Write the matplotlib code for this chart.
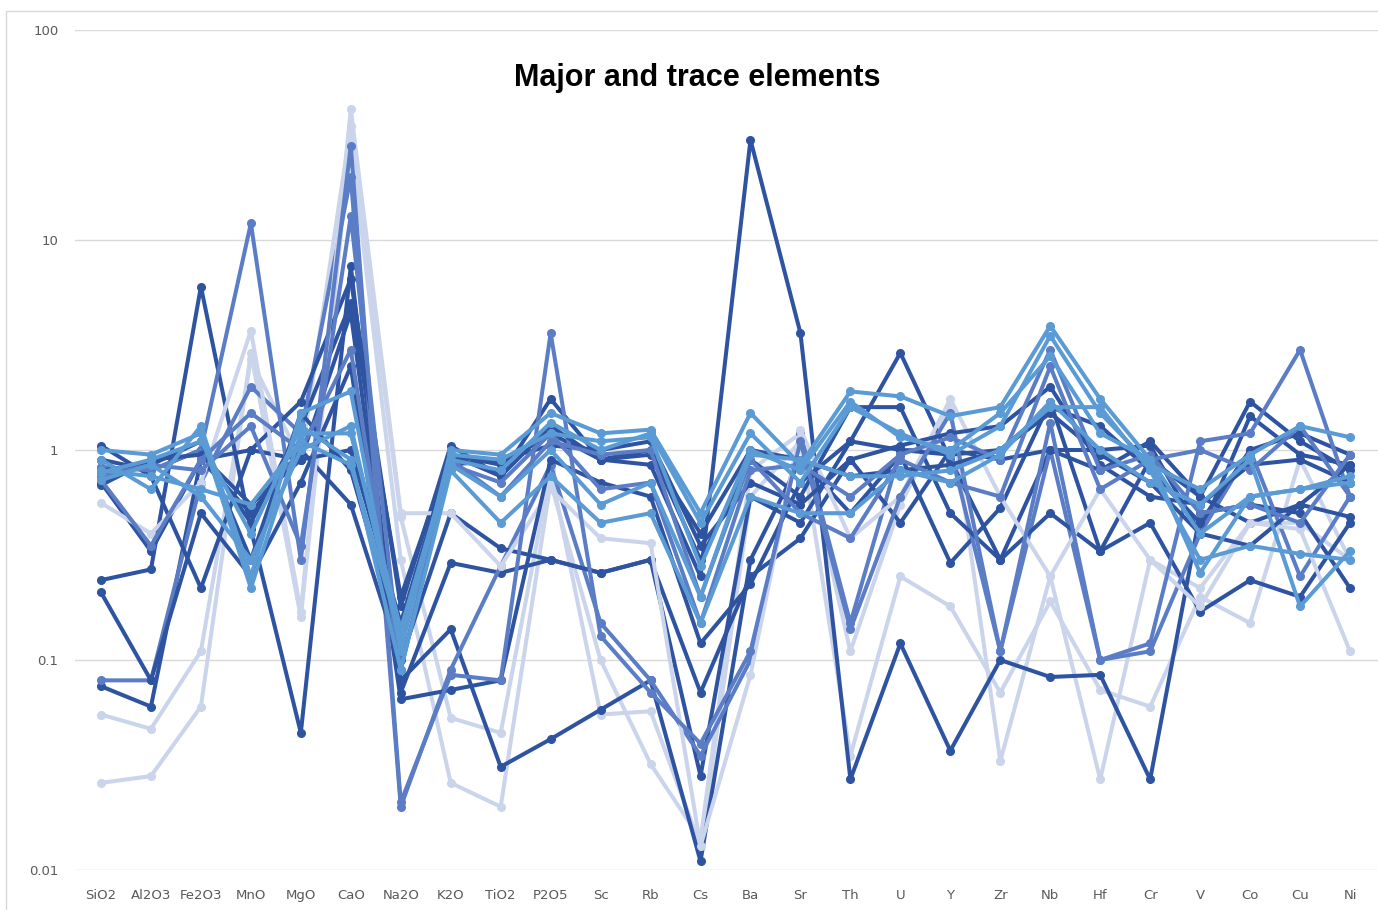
import numpy as np
import matplotlib.pyplot as plt
from matplotlib.patches import Rectangle

elements = ['SiO2', 'Al2O3', 'Fe2O3', 'MnO', 'MgO', 'CaO', 'Na2O', 'K2O', 'TiO2', 'P2O5',
            'Sc', 'Rb', 'Cs', 'Ba', 'Sr', 'Th', 'U', 'Y', 'Zr', 'Nb', 'Hf', 'Cr', 'V', 'Co', 'Cu', 'Ni']

# normalised concentrations per sample
d1 = [0.9, 0.8, 1.0, 0.45, 1.3, 5.0, 0.2, 0.95, 0.85, 1.2, 0.9, 0.85, 0.25, 30.0, 3.6, 0.027, 0.12, 0.037, 0.1, 0.083, 0.085, 0.027, 0.5, 0.55, 0.5, 0.22]
d2 = [0.24, 0.27, 6.0, 0.42, 0.045, 7.5, 0.07, 0.29, 0.26, 0.3, 0.26, 0.3, 0.028, 0.6, 0.45, 1.1, 2.9, 0.9, 0.3, 1.0, 1.0, 1.05, 0.4, 1.45, 0.95, 0.85]
d3 = [0.075, 0.06, 0.9, 1.0, 0.9, 4.5, 0.08, 0.14, 0.031, 0.042, 0.058, 0.08, 0.011, 0.3, 0.9, 0.5, 0.95, 0.29, 0.53, 1.7, 0.33, 0.45, 0.17, 0.24, 0.2, 0.45]
d4 = [1.05, 0.75, 0.22, 1.0, 1.7, 6.5, 0.18, 1.05, 0.75, 1.75, 0.9, 1.0, 0.3, 0.9, 0.6, 1.6, 1.6, 0.5, 0.3, 0.5, 0.33, 0.9, 0.6, 1.7, 1.1, 0.8]
d5 = [0.7, 0.33, 0.9, 0.5, 1.0, 0.55, 0.1, 0.5, 0.34, 0.3, 0.26, 0.3, 0.07, 0.25, 0.38, 0.9, 0.45, 1.0, 0.9, 1.0, 0.8, 1.1, 0.6, 0.45, 0.55, 0.48]
d6 = [0.21, 0.08, 0.5, 0.25, 0.7, 2.5, 0.065, 0.072, 0.08, 0.9, 0.7, 0.6, 0.12, 0.23, 0.7, 1.1, 1.0, 0.95, 1.0, 1.6, 1.3, 0.8, 0.45, 1.0, 1.2, 0.95]
d7 = [0.8, 0.85, 1.1, 0.3, 1.5, 0.8, 0.12, 0.85, 0.9, 1.05, 1.0, 1.1, 0.35, 0.7, 0.55, 0.9, 1.05, 1.2, 1.3, 2.0, 0.85, 0.6, 0.55, 0.85, 0.9, 0.7]
d8 = [0.68, 0.9, 0.95, 0.55, 0.9, 1.0, 0.15, 0.95, 0.75, 1.3, 0.9, 0.95, 0.4, 1.0, 0.9, 0.75, 0.8, 0.85, 1.0, 1.5, 0.95, 0.7, 0.4, 0.35, 0.55, 0.85]

m1 = [0.83, 0.8, 1.0, 12.0, 0.3, 28.0, 0.021, 0.085, 0.08, 3.6, 0.13, 0.07, 0.04, 0.11, 1.1, 0.14, 0.6, 1.5, 0.11, 1.35, 0.1, 0.12, 1.1, 1.2, 3.0, 0.6]
m2 = [0.08, 0.08, 0.7, 2.0, 1.2, 20.0, 0.02, 0.09, 0.28, 0.85, 0.15, 0.08, 0.035, 0.1, 1.2, 0.15, 1.0, 1.0, 0.11, 1.0, 0.1, 0.11, 0.4, 1.0, 0.25, 0.6]
m3 = [0.75, 0.85, 0.8, 1.3, 0.35, 13.0, 0.09, 0.9, 0.6, 1.1, 0.95, 1.0, 0.2, 0.9, 0.5, 0.38, 0.9, 0.7, 0.6, 2.5, 0.65, 0.9, 1.0, 0.8, 1.3, 0.6]
m4 = [0.72, 0.35, 0.9, 1.5, 1.0, 3.0, 0.09, 0.85, 0.7, 1.2, 0.65, 0.7, 0.15, 0.8, 0.85, 0.6, 0.95, 1.15, 0.9, 3.0, 0.8, 0.95, 0.5, 0.55, 0.45, 0.95]

l1 = [0.9, 0.65, 1.3, 0.25, 1.5, 1.9, 0.11, 1.0, 0.95, 1.5, 1.2, 1.25, 0.5, 1.5, 0.85, 1.9, 1.8, 1.45, 1.6, 3.9, 1.75, 0.9, 0.26, 0.6, 0.65, 0.7]
l2 = [1.0, 0.95, 1.2, 0.22, 1.2, 1.2, 0.14, 0.9, 0.8, 1.35, 1.0, 1.2, 0.45, 1.2, 0.7, 1.6, 1.2, 0.95, 1.3, 3.5, 1.5, 0.85, 0.65, 0.95, 1.3, 1.15]
l3 = [0.8, 0.75, 0.65, 0.55, 1.1, 0.85, 0.13, 0.85, 0.6, 1.0, 0.55, 0.7, 0.2, 0.95, 0.9, 0.75, 0.75, 0.8, 1.0, 1.6, 1.6, 0.8, 0.3, 0.35, 0.32, 0.3]
l4 = [0.78, 0.9, 1.1, 0.4, 1.3, 0.9, 0.09, 0.8, 0.45, 0.75, 0.45, 0.5, 0.15, 0.6, 0.5, 0.5, 0.8, 0.7, 0.95, 1.7, 1.0, 0.7, 0.55, 0.9, 0.18, 0.33]
l5 = [0.72, 0.85, 0.6, 0.3, 1.0, 1.3, 0.12, 0.95, 0.9, 1.2, 1.1, 1.15, 0.28, 1.0, 0.8, 1.7, 1.15, 1.0, 1.5, 2.8, 1.2, 0.9, 0.4, 0.6, 0.65, 0.75]

p1 = [0.56, 0.4, 0.7, 3.7, 0.17, 42.0, 0.5, 0.5, 0.28, 0.65, 0.38, 0.36, 0.013, 0.085, 1.25, 0.38, 0.6, 1.75, 0.6, 0.25, 0.65, 0.3, 0.18, 0.45, 0.42, 0.11]
p2 = [0.055, 0.047, 0.11, 2.7, 0.9, 35.0, 0.48, 0.053, 0.045, 0.8, 0.055, 0.057, 0.013, 0.6, 1.1, 0.035, 0.25, 0.18, 0.07, 0.19, 0.072, 0.06, 0.2, 0.15, 0.9, 0.3]
p3 = [0.026, 0.028, 0.06, 2.9, 0.16, 30.0, 0.3, 0.026, 0.02, 0.7, 0.1, 0.032, 0.014, 0.8, 1.2, 0.11, 0.55, 1.6, 0.033, 0.25, 0.027, 0.3, 0.22, 0.45, 0.45, 0.3]

DARK = '#2E54A1'
MID = '#5B7DC5'
LIGHT = '#5A9BD5'
PALE = '#CAD4EB'

series = [
    (p2, PALE), (p3, PALE), (d1, DARK), (d2, DARK), (d3, DARK), (m2, MID),
    (d4, DARK), (d5, DARK), (p1, PALE), (d6, DARK), (m1, MID), (d7, DARK),
    (d8, DARK), (m3, MID), (m4, MID), (l3, LIGHT), (l4, LIGHT), (l5, LIGHT),
    (l2, LIGHT), (l1, LIGHT),
]

fig = plt.figure(figsize=(13.78, 9.10), dpi=100)
ax = fig.add_axes([75 / 1378, 1 - 870 / 910, 1 - 75 / 1378, 840 / 910])

x = np.arange(len(elements))
for vals, col in series:
    ax.plot(x, vals, color=col, linewidth=2.9, marker='o', markersize=5.5,
            solid_joinstyle='round', zorder=3)

ax.set_yscale('log')
ax.set_ylim(0.01, 100)
ax.set_xlim(-0.52, 25.56)
ax.set_yticks([0.01, 0.1, 1, 10, 100])
ax.set_yticklabels(['0.01', '0.1', '1', '10', '100'])
ax.minorticks_off()
ax.set_xticks(x)
ax.set_xticklabels(elements)
ax.tick_params(axis='both', length=0, labelsize=9.5, labelcolor='#595959')
ax.tick_params(axis='y', pad=12)
ax.tick_params(axis='x', pad=14)
for s in ax.spines.values():
    s.set_visible(False)
ax.grid(axis='y', color='#D9D9D9', linewidth=1.0, zorder=0)

fig.text(697 / 1378, 1 - 78 / 910, 'Major and trace elements', ha='center', va='center',
         fontsize=22, fontweight='bold', family=['Liberation Sans', 'DejaVu Sans'])

fig.patches.append(Rectangle((0.004, -0.01), 1.02, 0.998, transform=fig.transFigure,
                             fill=False, edgecolor='#D9D9D9', linewidth=1.0))

fig.savefig('out.png', dpi=100)
